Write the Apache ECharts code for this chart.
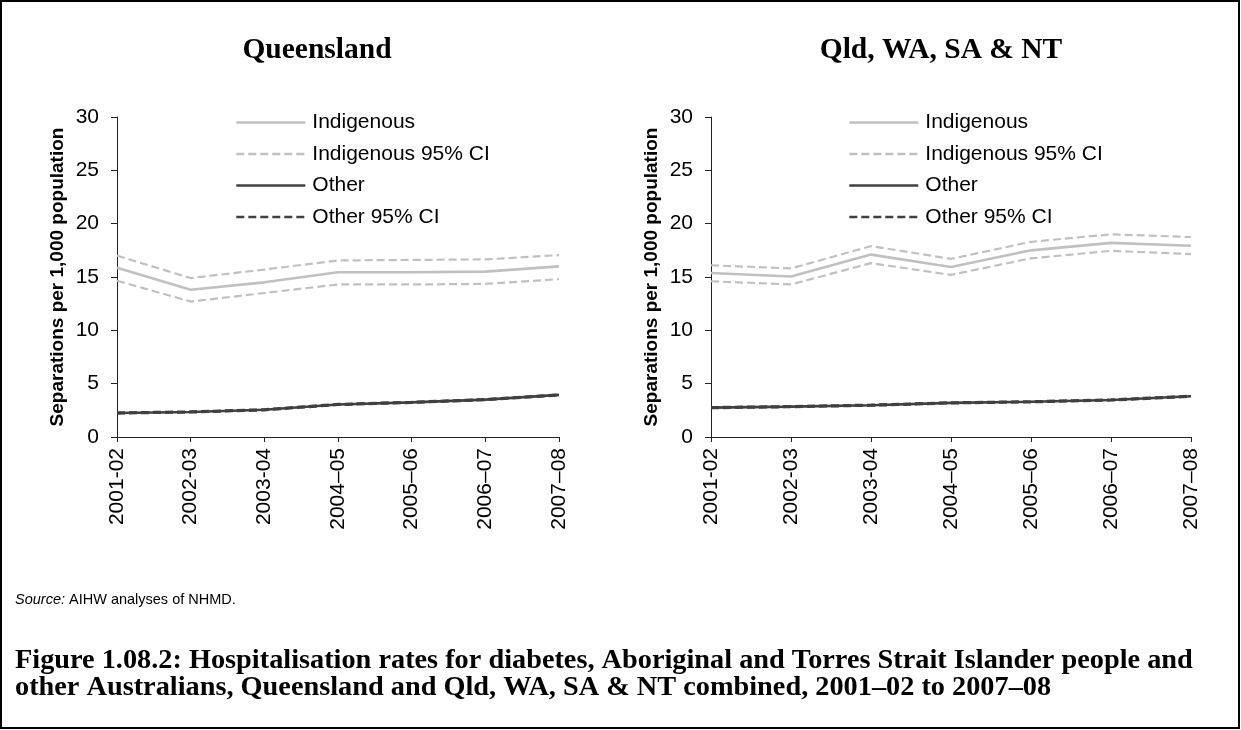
<!DOCTYPE html>
<html>
<head>
<meta charset="utf-8">
<title>Hospitalisation rates for diabetes</title>
<script src="https://cdn.jsdelivr.net/npm/echarts@6/dist/echarts.min.js"></script>
<style>
html, body { margin: 0; padding: 0; background: #fff; }
#main { width: 1241px; height: 730px; }
</style>
</head>
<body>
<div id="main"></div>
<script>
// categories (x axis)
var years = ['2001-02', '2002-03', '2003-04', '2004\u201305', '2005\u201306', '2006\u201307', '2007\u201308'];

// Queensland
var qldIndig = [15.86, 13.8, 14.5, 15.45, 15.45, 15.5, 16.0];
var qldIndigHi = [17.0, 14.9, 15.7, 16.55, 16.6, 16.65, 17.05];
var qldIndigLo = [14.65, 12.7, 13.5, 14.3, 14.3, 14.35, 14.8];
var qldOther = [2.25, 2.35, 2.55, 3.05, 3.25, 3.5, 3.95];
var qldOtherHi = [2.3, 2.4, 2.6, 3.1, 3.3, 3.55, 4.0];
var qldOtherLo = [2.2, 2.3, 2.5, 3.0, 3.2, 3.45, 3.9];

// Qld, WA, SA & NT
var allIndig = [15.37, 15.05, 17.1, 15.93, 17.5, 18.2, 17.93];
var allIndigHi = [16.1, 15.8, 17.9, 16.7, 18.3, 19.0, 18.75];
var allIndigLo = [14.6, 14.3, 16.3, 15.2, 16.75, 17.45, 17.15];
var allOther = [2.75, 2.85, 2.98, 3.2, 3.3, 3.47, 3.82];
var allOtherHi = [2.8, 2.9, 3.03, 3.25, 3.35, 3.52, 3.87];
var allOtherLo = [2.7, 2.8, 2.93, 3.15, 3.25, 3.42, 3.77];

var yTicks = { min: 0, max: 30, interval: 5 };
var legendNames = ['Indigenous', 'Indigenous 95% CI', 'Other', 'Other 95% CI'];

var LIGHT = '#c0c0c0';
var DARK = '#404040';
var SANS = 'Liberation Sans, Arial, sans-serif';
var SERIF = 'Liberation Serif, Times New Roman, serif';

function mkX(idx) {
	return {
		type : 'category',
		gridIndex : idx,
		data : years,
		boundaryGap : false,
		axisLine : { lineStyle : { color : '#222', width : 1 } },
		axisTick : { show : true, length : 5, lineStyle : { color : '#222' } },
		axisLabel : { rotate : 90, margin : 11, fontSize : 21, color : '#000', fontFamily : SANS },
		splitLine : { show : false }
	};
}

function mkY(idx) {
	return {
		type : 'value',
		gridIndex : idx,
		min : yTicks.min,
		max : yTicks.max,
		interval : yTicks.interval,
		name : 'Separations per 1,000 population',
		nameLocation : 'middle',
		nameGap : 50,
		nameTextStyle : { fontSize : 19, fontWeight : 'bold', color : '#000', fontFamily : SANS },
		axisLine : { show : true, lineStyle : { color : '#222', width : 1 } },
		axisTick : { show : true, length : 6, lineStyle : { color : '#222' } },
		axisLabel : { margin : 18, fontSize : 21, color : '#000', fontFamily : SANS },
		splitLine : { show : false }
	};
}

function line(name, data, idx, color, dashed) {
	return {
		name : name,
		type : 'line',
		xAxisIndex : idx,
		yAxisIndex : idx,
		data : data,
		symbol : 'none',
		showSymbol : false,
		silent : true,
		lineStyle : { color : color, width : dashed ? 2.2 : 2.6, type : dashed ? [8, 4] : 'solid' },
		itemStyle : { color : color },
		z : dashed ? 2 : 3
	};
}

function mkLegend(left) {
	return {
		data : legendNames,
		orient : 'vertical',
		left : left,
		top : 107,
		itemWidth : 69,
		itemHeight : 14,
		itemGap : 10.5,
		selectedMode : false,
		// hide the symbol in the middle of the legend line
		itemStyle : { opacity : 0 },
		lineStyle : { width : 2.6 },
		textStyle : { fontSize : 21, lineHeight : 21, color : '#000', fontFamily : SANS, padding : [0, 0, 0, 2] }
	};
}

var chart = echarts.init(document.getElementById('main'));
chart.setOption({
	backgroundColor : '#fff',
	animation : false,
	grid : [
		{ left : 117, top : 117, width : 442, height : 320 },
		{ left : 711, top : 117, width : 480, height : 320 }
	],
	xAxis : [ mkX(0), mkX(1) ],
	yAxis : [ mkY(0), mkY(1) ],
	legend : [ mkLegend(230), mkLegend(843) ],
	series : [
		line('Indigenous 95% CI', qldIndigHi, 0, LIGHT, true),
		line('Indigenous 95% CI', qldIndigLo, 0, LIGHT, true),
		line('Indigenous', qldIndig, 0, LIGHT, false),
		line('Other 95% CI', qldOtherHi, 0, DARK, true),
		line('Other 95% CI', qldOtherLo, 0, DARK, true),
		line('Other', qldOther, 0, DARK, false),
		line('Indigenous 95% CI', allIndigHi, 1, LIGHT, true),
		line('Indigenous 95% CI', allIndigLo, 1, LIGHT, true),
		line('Indigenous', allIndig, 1, LIGHT, false),
		line('Other 95% CI', allOtherHi, 1, DARK, true),
		line('Other 95% CI', allOtherLo, 1, DARK, true),
		line('Other', allOther, 1, DARK, false)
	],
	graphic : [
		// outer frame
		{ type : 'rect', shape : { x : 1, y : 1, width : 1238, height : 727 },
			style : { fill : null, stroke : '#000', lineWidth : 2 }, silent : true },
		// panel titles
		{ type : 'text', x : 317, y : 50,
			style : { text : 'Queensland', font : 'bold 29.5px ' + SERIF, fill : '#000', align : 'center', verticalAlign : 'middle' } },
		{ type : 'text', x : 941, y : 50,
			style : { text : 'Qld, WA, SA & NT', font : 'bold 29.5px ' + SERIF, fill : '#000', align : 'center', verticalAlign : 'middle' } },
		// source note
		{ type : 'text', x : 15, y : 600,
			style : {
				text : '{i|Source:} AIHW analyses of NHMD.',
				font : '14.5px ' + SANS,
				fill : '#000',
				verticalAlign : 'middle',
				rich : { i : { fontStyle : 'italic', fontSize : 14.5, fontFamily : SANS, fill : '#000' } }
			} },
		// figure caption
		{ type : 'text', x : 15, y : 661,
			style : { text : 'Figure 1.08.2: Hospitalisation rates for diabetes, Aboriginal and Torres Strait Islander people and',
				font : 'bold 28.3px ' + SERIF, fill : '#000', verticalAlign : 'middle' } },
		{ type : 'text', x : 15, y : 688,
			style : { text : 'other Australians, Queensland and Qld, WA, SA & NT combined, 2001\u201302 to 2007\u201308',
				font : 'bold 28.3px ' + SERIF, fill : '#000', verticalAlign : 'middle' } }
	]
});
</script>
</body>
</html>
